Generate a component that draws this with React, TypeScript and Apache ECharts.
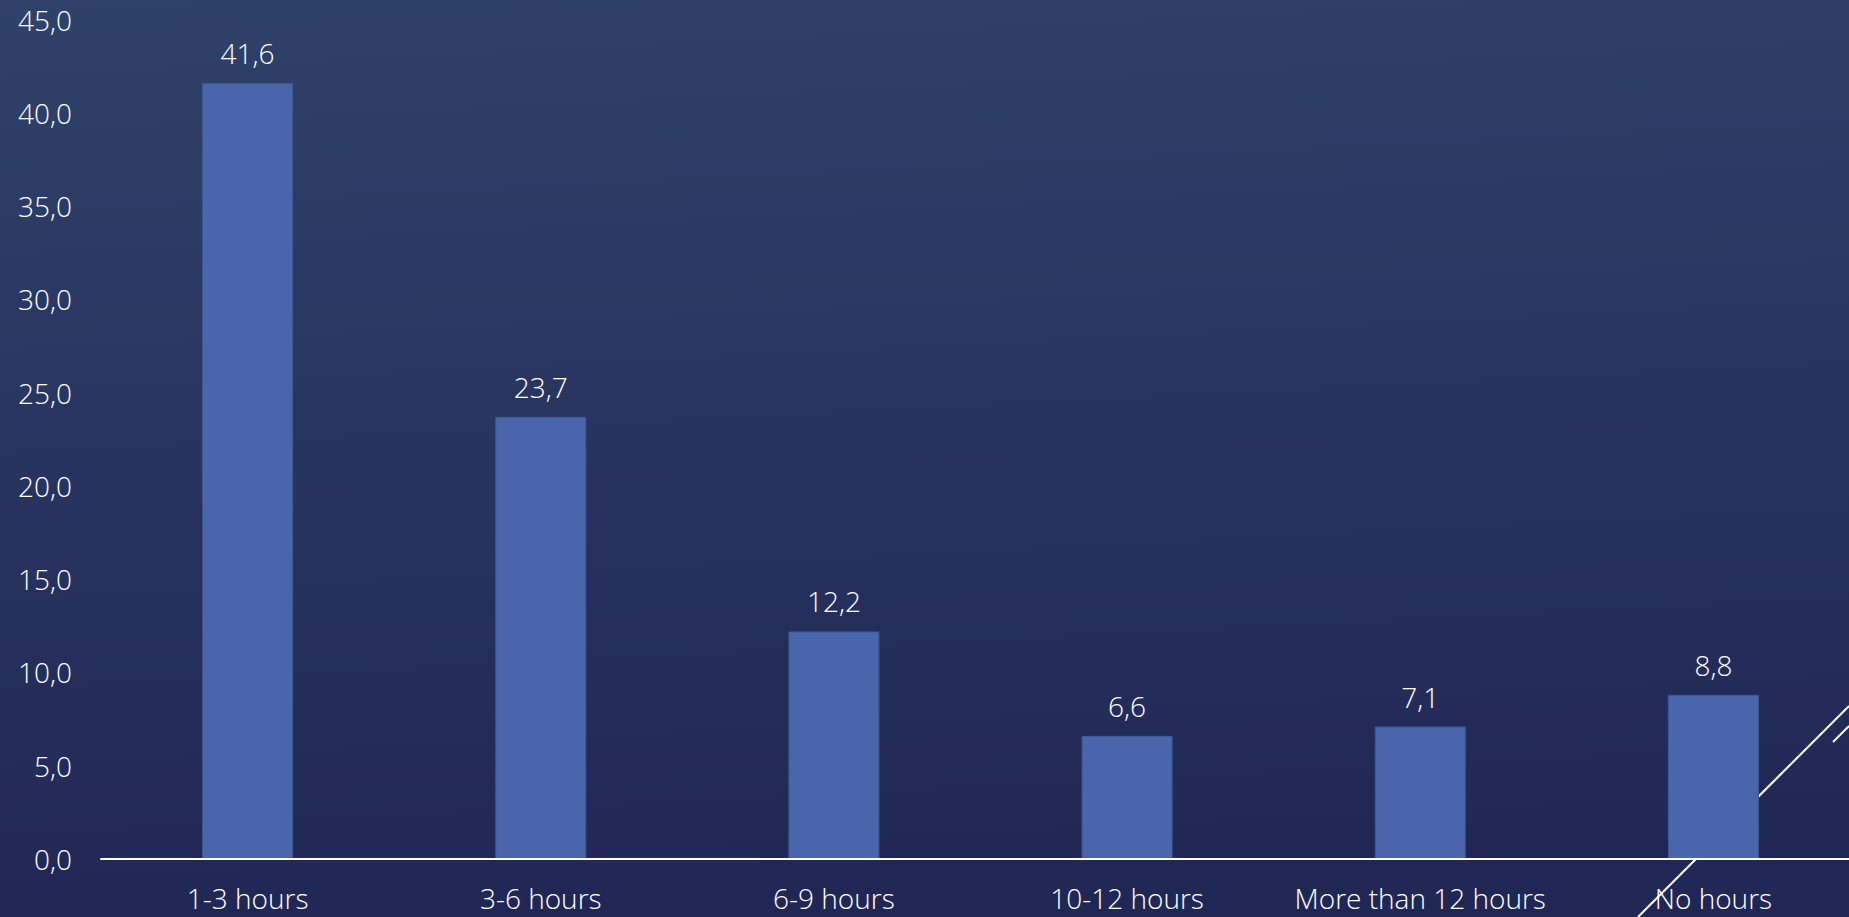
import React, { useEffect, useRef } from "react";
import * as echarts from "echarts";

const categories = ["1-3 hours", "3-6 hours", "6-9 hours", "10-12 hours", "More than 12 hours", "No hours"];
const values = [41.6, 23.7, 12.2, 6.6, 7.1, 8.8];
const yTicks = { min: 0, max: 45, interval: 5 };

const fmt = (v: number) => v.toFixed(1).replace(".", ",");
const FONT = "'Open Sans', 'Noto Sans', sans-serif";

export default function App() {
  const ref = useRef<HTMLDivElement>(null);
  useEffect(() => {
    document.body.style.margin = "0";
    document.body.style.overflow = "hidden";
    const chart = echarts.init(ref.current!, undefined, { renderer: "svg" });
    chart.setOption({
      animation: false,
      backgroundColor: new echarts.graphic.LinearGradient(0, 0, 0.1, 1, [
        { offset: 0, color: "#2F4269" },
        { offset: 0.5, color: "#283460" },
        { offset: 1, color: "#212755" },
      ]),
      grid: { left: 101, right: 0, top: 19.5, bottom: 58, containLabel: false },
      graphic: [
        {
          type: "line",
          z: -10,
          silent: true,
          shape: { x1: 1638, y1: 917, x2: 1849, y2: 706 },
          style: { stroke: "#ffffff", lineWidth: 2 },
        },
        {
          type: "line",
          z: -10,
          silent: true,
          shape: { x1: 1833, y1: 742, x2: 1849, y2: 726 },
          style: { stroke: "#ffffff", lineWidth: 2 },
        },
      ],
      xAxis: {
        type: "category",
        data: categories,
        axisLine: { show: true, lineStyle: { color: "#ffffff", width: 2 } },
        axisTick: { show: false },
        axisLabel: { color: "#ffffff", fontSize: 28, fontFamily: FONT, fontWeight: 300, margin: 25, interval: 0 },
        z: 5,
      },
      yAxis: {
        type: "value",
        min: yTicks.min,
        max: yTicks.max,
        interval: yTicks.interval,
        axisLine: { show: false },
        axisTick: { show: false },
        splitLine: { show: false },
        axisLabel: {
          color: "#ffffff",
          fontSize: 28,
          fontFamily: FONT,
          fontWeight: 300,
          margin: 29,
          formatter: (v: number) => fmt(v),
        },
      },
      series: [
        {
          type: "bar",
          data: values,
          barWidth: 91,
          itemStyle: { color: "#4966AD", borderColor: "#3E5797", borderWidth: 1 },
          label: {
            show: true,
            position: "top",
            distance: 16,
            color: "#ffffff",
            fontSize: 28,
            fontFamily: FONT,
            fontWeight: 300,
            formatter: (p: any) => fmt(p.value),
          },
        },
      ],
    });
    return () => chart.dispose();
  }, []);
  return <div ref={ref} style={{ position: "fixed", left: 0, top: 0, width: 1860, height: 917 }} />;
}
